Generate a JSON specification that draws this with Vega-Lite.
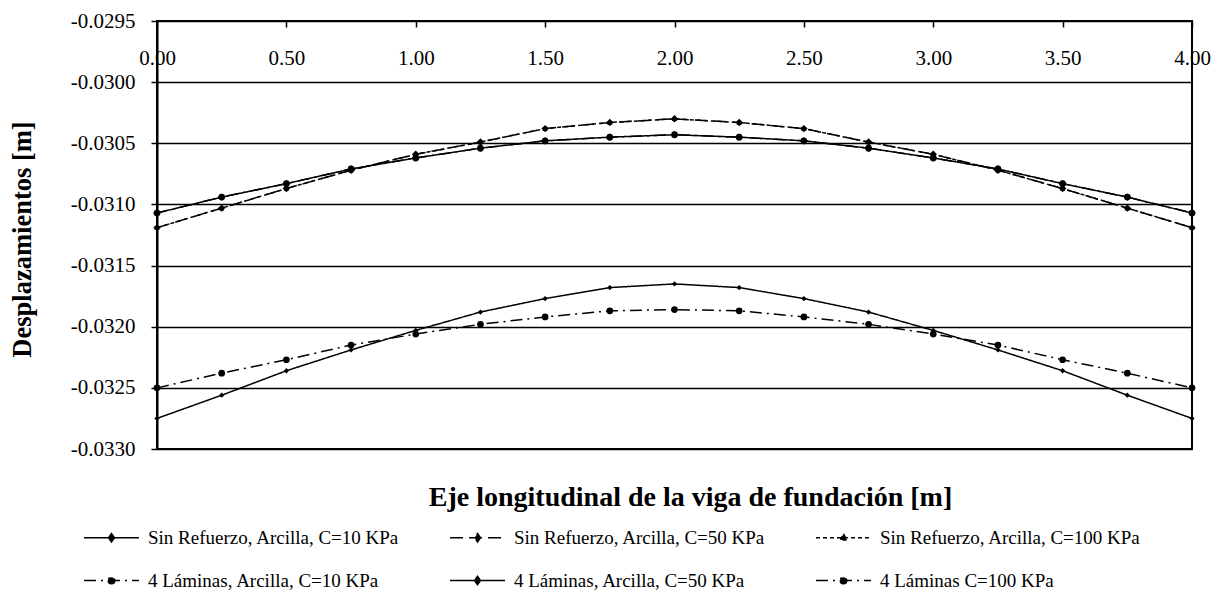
{
  "$schema": "https://vega.github.io/schema/vega-lite/v6.json",
  "width": 1035,
  "height": 428,
  "autosize": "none",
  "padding": {"left": 157, "top": 21, "right": 24, "bottom": 151},
  "background": "white",
  "config": {
    "font": "Liberation Serif",
    "view": {"stroke": "black", "strokeWidth": 2},
    "axis": {"labelColor": "black", "titleColor": "black", "domainColor": "black", "tickColor": "black", "gridColor": "black"}
  },
  "data": {"values": [
    {"x":0,"y":-0.03275,"s":"a"},{"x":0.25,"y":-0.03256,"s":"a"},{"x":0.5,"y":-0.03236,"s":"a"},{"x":0.75,"y":-0.03219,"s":"a"},{"x":1,"y":-0.03203,"s":"a"},{"x":1.25,"y":-0.03188,"s":"a"},{"x":1.5,"y":-0.03177,"s":"a"},{"x":1.75,"y":-0.03168,"s":"a"},{"x":2,"y":-0.03165,"s":"a"},{"x":2.25,"y":-0.03168,"s":"a"},{"x":2.5,"y":-0.03177,"s":"a"},{"x":2.75,"y":-0.03188,"s":"a"},{"x":3,"y":-0.03203,"s":"a"},{"x":3.25,"y":-0.03219,"s":"a"},{"x":3.5,"y":-0.03236,"s":"a"},{"x":3.75,"y":-0.03256,"s":"a"},{"x":4,"y":-0.03275,"s":"a"},
    {"x":0,"y":-0.03119,"s":"b"},{"x":0.25,"y":-0.03103,"s":"b"},{"x":0.5,"y":-0.03087,"s":"b"},{"x":0.75,"y":-0.03072,"s":"b"},{"x":1,"y":-0.03059,"s":"b"},{"x":1.25,"y":-0.03049,"s":"b"},{"x":1.5,"y":-0.03038,"s":"b"},{"x":1.75,"y":-0.03033,"s":"b"},{"x":2,"y":-0.0303,"s":"b"},{"x":2.25,"y":-0.03033,"s":"b"},{"x":2.5,"y":-0.03038,"s":"b"},{"x":2.75,"y":-0.03049,"s":"b"},{"x":3,"y":-0.03059,"s":"b"},{"x":3.25,"y":-0.03072,"s":"b"},{"x":3.5,"y":-0.03087,"s":"b"},{"x":3.75,"y":-0.03103,"s":"b"},{"x":4,"y":-0.03119,"s":"b"},
    {"x":0,"y":-0.03119,"s":"c"},{"x":0.25,"y":-0.03103,"s":"c"},{"x":0.5,"y":-0.03087,"s":"c"},{"x":0.75,"y":-0.03072,"s":"c"},{"x":1,"y":-0.03059,"s":"c"},{"x":1.25,"y":-0.03049,"s":"c"},{"x":1.5,"y":-0.03038,"s":"c"},{"x":1.75,"y":-0.03033,"s":"c"},{"x":2,"y":-0.0303,"s":"c"},{"x":2.25,"y":-0.03033,"s":"c"},{"x":2.5,"y":-0.03038,"s":"c"},{"x":2.75,"y":-0.03049,"s":"c"},{"x":3,"y":-0.03059,"s":"c"},{"x":3.25,"y":-0.03072,"s":"c"},{"x":3.5,"y":-0.03087,"s":"c"},{"x":3.75,"y":-0.03103,"s":"c"},{"x":4,"y":-0.03119,"s":"c"},
    {"x":0,"y":-0.0325,"s":"d"},{"x":0.25,"y":-0.03238,"s":"d"},{"x":0.5,"y":-0.03227,"s":"d"},{"x":0.75,"y":-0.03215,"s":"d"},{"x":1,"y":-0.03206,"s":"d"},{"x":1.25,"y":-0.03198,"s":"d"},{"x":1.5,"y":-0.03192,"s":"d"},{"x":1.75,"y":-0.03187,"s":"d"},{"x":2,"y":-0.03186,"s":"d"},{"x":2.25,"y":-0.03187,"s":"d"},{"x":2.5,"y":-0.03192,"s":"d"},{"x":2.75,"y":-0.03198,"s":"d"},{"x":3,"y":-0.03206,"s":"d"},{"x":3.25,"y":-0.03215,"s":"d"},{"x":3.5,"y":-0.03227,"s":"d"},{"x":3.75,"y":-0.03238,"s":"d"},{"x":4,"y":-0.0325,"s":"d"},
    {"x":0,"y":-0.03107,"s":"f"},{"x":0.25,"y":-0.03094,"s":"f"},{"x":0.5,"y":-0.03083,"s":"f"},{"x":0.75,"y":-0.03071,"s":"f"},{"x":1,"y":-0.03062,"s":"f"},{"x":1.25,"y":-0.03054,"s":"f"},{"x":1.5,"y":-0.03048,"s":"f"},{"x":1.75,"y":-0.03045,"s":"f"},{"x":2,"y":-0.03043,"s":"f"},{"x":2.25,"y":-0.03045,"s":"f"},{"x":2.5,"y":-0.03048,"s":"f"},{"x":2.75,"y":-0.03054,"s":"f"},{"x":3,"y":-0.03062,"s":"f"},{"x":3.25,"y":-0.03071,"s":"f"},{"x":3.5,"y":-0.03083,"s":"f"},{"x":3.75,"y":-0.03094,"s":"f"},{"x":4,"y":-0.03107,"s":"f"},
    {"x":0,"y":-0.03107,"s":"e"},{"x":0.25,"y":-0.03094,"s":"e"},{"x":0.5,"y":-0.03083,"s":"e"},{"x":0.75,"y":-0.03071,"s":"e"},{"x":1,"y":-0.03062,"s":"e"},{"x":1.25,"y":-0.03054,"s":"e"},{"x":1.5,"y":-0.03048,"s":"e"},{"x":1.75,"y":-0.03045,"s":"e"},{"x":2,"y":-0.03043,"s":"e"},{"x":2.25,"y":-0.03045,"s":"e"},{"x":2.5,"y":-0.03048,"s":"e"},{"x":2.75,"y":-0.03054,"s":"e"},{"x":3,"y":-0.03062,"s":"e"},{"x":3.25,"y":-0.03071,"s":"e"},{"x":3.5,"y":-0.03083,"s":"e"},{"x":3.75,"y":-0.03094,"s":"e"},{"x":4,"y":-0.03107,"s":"e"}
  ]},
  "encoding": {
    "x": {"field": "x", "type": "quantitative",
      "scale": {"domain": [0, 4], "nice": false, "zero": false},
      "axis": {"orient": "bottom", "offset": -428, "values": [0, 0.5, 1, 1.5, 2, 2.5, 3, 3.5, 4], "format": ".2f",
        "grid": false, "domain": false, "tickSize": 6, "tickWidth": 1.5, "labelPadding": 20, "labelFontSize": 21,
        "labelFlush": false, "labelOverlap": false, "labelBound": false,
        "title": "Eje longitudinal de la viga de fundación [m]", "titleFontSize": 28, "titleFontWeight": "bold",
        "titleX": 533, "titleY": 476, "titleBaseline": "middle", "titleAnchor": null}},
    "y": {"field": "y", "type": "quantitative",
      "scale": {"domain": [-0.033, -0.0295], "nice": false, "zero": false},
      "axis": {"values": [-0.033, -0.0325, -0.032, -0.0315, -0.031, -0.0305, -0.03, -0.0295], "format": ".4f",
        "labelExpr": "replace(datum.label, '−', '-')",
        "grid": true, "gridWidth": 1.5, "gridOpacity": 1, "domainWidth": 2, "tickSize": 6, "tickWidth": 1.5,
        "labelPadding": 16, "labelFontSize": 21, "labelOverlap": false, "labelFlush": false,
        "title": "Desplazamientos [m]", "titleFontSize": 26.5, "titleFontWeight": "bold",
        "titleX": -135, "titleY": 218, "titleAngle": -90, "titleBaseline": "middle", "titleAnchor": null}}
  },
  "layer": [
    {
      "mark": {"type": "line", "color": "black", "strokeWidth": 1.5},
      "encoding": {
        "strokeDash": {"field": "s", "type": "nominal",
          "scale": {"domain": ["a", "b", "c", "d", "e", "f"],
            "range": [[1, 0], [13, 6], [4, 3], [12, 5, 2, 5], [1, 0], [12, 5, 2, 5]]},
          "legend": {"orient": "none", "legendX": -74, "legendY": 488, "columns": 3, "direction": "horizontal",
            "title": null, "columnPadding": 47, "rowPadding": 4, "labelOffset": 8,
            "labelFontSize": 19, "labelColor": "black", "labelLimit": 400,
            "symbolSize": 3025, "symbolStrokeColor": "black", "symbolStrokeWidth": 1.5,
            "labelExpr": "{'a':'Sin Refuerzo, Arcilla, C=10 KPa','b':'Sin Refuerzo, Arcilla, C=50 KPa','c':'Sin Refuerzo, Arcilla, C=100 KPa','d':'4 Láminas, Arcilla, C=10 KPa','e':'4 Láminas, Arcilla, C=50 KPa','f':'4 Láminas C=100 KPa'}[datum.value]",
            "encode": {"symbols": {"update": {
              "fill": {"value": "black"},
              "stroke": {"value": "black"},
              "shape": {"signal": "datum.value === 'c' ? 'M-1,0H1M0,-0.14L0.12,0.08L-0.12,0.08Z' : (datum.value === 'd' || datum.value === 'f') ? 'M-1,0H1M-0.12,0A0.12,0.12,0,1,0,0.12,0A0.12,0.12,0,1,0,-0.12,0Z' : 'M-1,0H1M0,-0.15L0.11,0L0,0.15L-0.11,0Z'"}
            }}}}
        }
      }
    },
    {
      "transform": [{"filter": {"field": "s", "equal": "a"}}],
      "mark": {"type": "point", "filled": true, "color": "black", "opacity": 1, "shape": "diamond", "size": 28}
    },
    {
      "transform": [{"filter": {"field": "s", "oneOf": ["b", "e"]}}],
      "mark": {"type": "point", "filled": true, "color": "black", "opacity": 1, "shape": "diamond", "size": 55}
    },
    {
      "transform": [{"filter": {"field": "s", "equal": "c"}}],
      "mark": {"type": "point", "filled": true, "color": "black", "opacity": 1, "shape": "triangle-up", "size": 28}
    },
    {
      "transform": [{"filter": {"field": "s", "oneOf": ["d", "f"]}}],
      "mark": {"type": "point", "filled": true, "color": "black", "opacity": 1, "shape": "circle", "size": 45}
    }
  ]
}
